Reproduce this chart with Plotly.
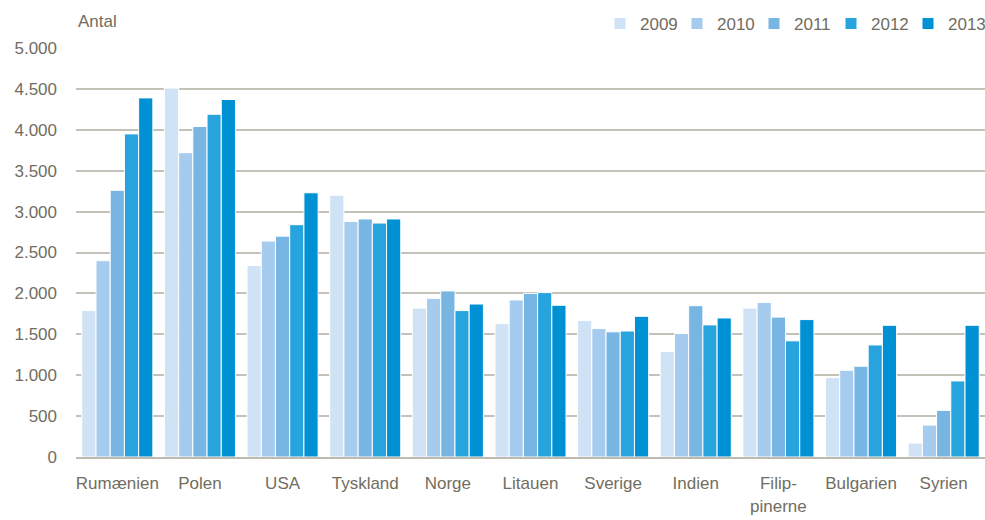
import plotly.graph_objects as go

categories = ["Rumænien", "Polen", "USA", "Tyskland", "Norge", "Litauen", "Sverige",
              "Indien", "Filip-<br>pinerne", "Bulgarien", "Syrien"]
years = ["2009", "2010", "2011", "2012", "2013"]
v2009 = [1790, 4510, 2340, 3200, 1820, 1630, 1670, 1290, 1820, 970, 170]
v2010 = [2400, 3720, 2640, 2880, 1940, 1920, 1570, 1510, 1890, 1060, 390]
v2011 = [3260, 4040, 2700, 2910, 2030, 2000, 1530, 1850, 1710, 1110, 570]
v2012 = [3950, 4190, 2840, 2860, 1790, 2010, 1540, 1615, 1420, 1370, 930]
v2013 = [4390, 4370, 3230, 2910, 1870, 1855, 1720, 1700, 1680, 1610, 1610]
series = [v2009, v2010, v2011, v2012, v2013]
colors = ["#D0E2F5", "#A5CBEE", "#77B5E2", "#27A3DD", "#0091D5"]
yticks = [0, 500, 1000, 1500, 2000, 2500, 3000, 3500, 4000, 4500, 5000]
ytick_labels = ["0", "500", "1.000", "1.500", "2.000", "2.500", "3.000", "3.500", "4.000", "4.500", "5.000"]

FONT = "Liberation Sans, Arial, sans-serif"
TXT = "#716D60"
FS = 17

fig = go.Figure()
for y, vals, c in zip(years, series, colors):
    fig.add_trace(go.Bar(name=y, x=categories, y=vals, marker=dict(color=c, line=dict(color="white", width=1))))

fig.update_layout(
    width=985, height=520,
    margin=dict(l=76, r=0, t=48, b=63, autoexpand=False),
    plot_bgcolor="white", paper_bgcolor="white",
    barmode="group", bargap=0.14, bargroupgap=0.0,
    font=dict(family=FONT, size=FS, color=TXT),
    legend=dict(orientation="h", x=1.0, xanchor="right", y=1.0587, yanchor="middle",
                font=dict(size=FS, color=TXT), traceorder="normal", itemwidth=30,
                entrywidth=32, entrywidthmode="pixels",
                bgcolor="rgba(0,0,0,0)"),
    annotations=[dict(text="Antal", xref="paper", yref="paper", x=0, y=1.0636,
                      xanchor="left", yanchor="middle", showarrow=False,
                      font=dict(size=FS, color=TXT))],
)
fig.update_xaxes(type="category", showgrid=False, showline=True, linecolor="#BDBBB0", linewidth=2,
                 ticks="", ticklabelstandoff=10, automargin=False, tickfont=dict(size=FS, color=TXT))
fig.update_yaxes(range=[0, 5000], tickvals=yticks, ticktext=ytick_labels, showgrid=True,
                 gridcolor="#C4C2B8", gridwidth=1.5, zeroline=False, showline=False, automargin=False,
                 ticks="", ticklabelstandoff=18, tickfont=dict(size=FS, color=TXT))
fig.write_html("out.html", config={"displayModeBar": False},
               post_script="document.body.style.margin='0';document.body.style.overflow='hidden';")
